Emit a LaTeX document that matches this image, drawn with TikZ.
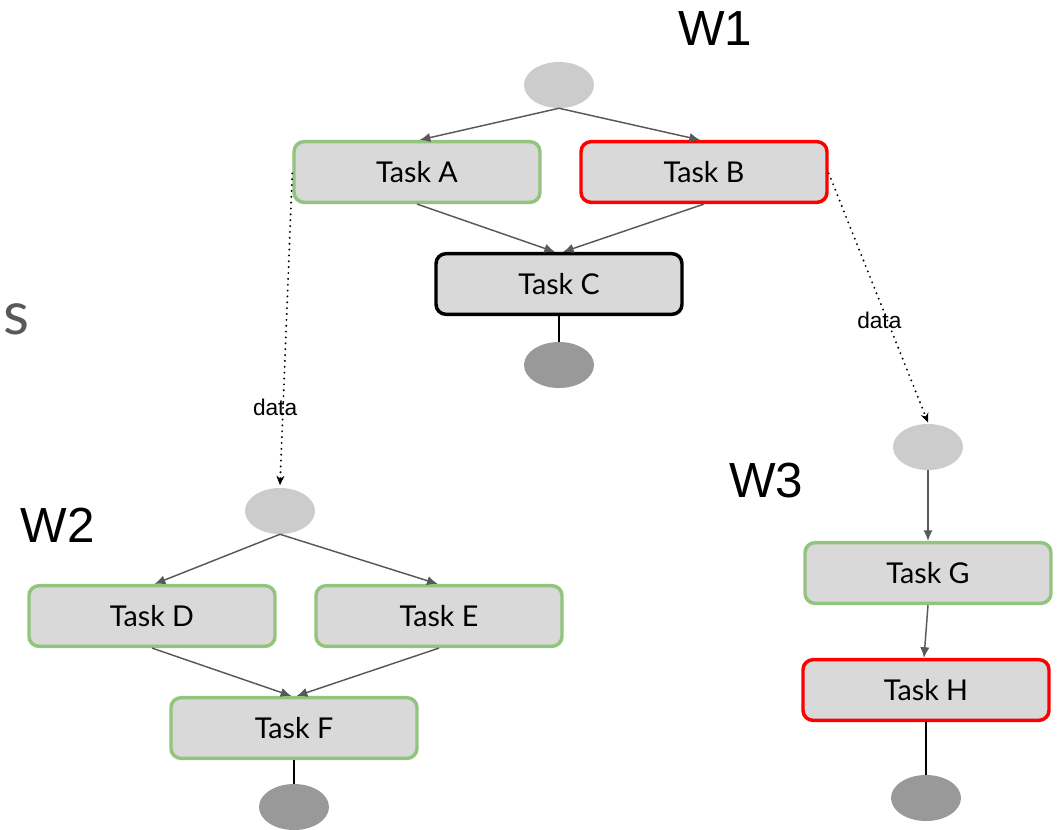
\documentclass[tikz,border=0pt]{standalone}
\usepackage{fontspec}
\setmainfont{Lato}
\newfontfamily\arialfont{Liberation Sans}
\usetikzlibrary{arrows.meta,shapes.geometric}
\definecolor{okgreen}{HTML}{93C47D}
\definecolor{failred}{HTML}{FF0000}
\definecolor{taskfill}{HTML}{D9D9D9}
\definecolor{startgray}{HTML}{CCCCCC}
\definecolor{endgray}{HTML}{999999}
\definecolor{edgegray}{HTML}{595959}
\tikzset{
  taskbox/.style={draw, line width=2.6pt, fill=taskfill, rounded corners=7.5pt,
    minimum width=184.5pt, minimum height=45.5pt, inner sep=0pt,
    font=\fontsize{21.5}{24}\selectfont, text=black},
  okbox/.style={taskbox, draw=okgreen},
  failbox/.style={taskbox, draw=failred},
  runbox/.style={taskbox, draw=black},
  startnode/.style={ellipse, fill=startgray, minimum width=52.5pt, minimum height=34.5pt, inner sep=0pt},
  endnode/.style={ellipse, fill=endgray, minimum width=52.5pt, minimum height=34.5pt, inner sep=0pt},
  flow/.style={draw=edgegray, line width=1.1pt, -{Latex[length=8pt,width=7pt]}},
  finish/.style={draw=black, line width=1.2pt},
  dataflow/.style={draw=black, line width=1.6pt, line cap=round, dash pattern=on 0pt off 4.4pt,
    -{Stealth[length=7pt,width=6pt,line cap=butt,line width=0.5pt]}},
  datalabel/.style={font=\arialfont\fontsize{17}{20}\selectfont, inner sep=0pt},
  wlabel/.style={font=\arialfont\fontsize{37}{40}\selectfont, inner sep=0pt},
}
\begin{document}
\begin{tikzpicture}[x=0.75pt, y=-0.75pt]
\useasboundingbox (0,0) rectangle (1061,829);

% workflow W1
\node[wlabel] (w1) at (715,29) {W1};
\node[startnode] (s1) at (559,85) {};
\node[okbox] (ta) at (417,172) {Task A};
\node[failbox] (tb) at (704,172) {Task B};
\node[runbox] (tc) at (559,284) {Task C};
\node[endnode] (e1) at (559,365) {};

% workflow W2
\node[wlabel] (w2) at (58,525) {W2};
\node[startnode] (s2) at (280,511) {};
\node[okbox] (td) at (152,616) {Task D};
\node[okbox] (te) at (439,616) {Task E};
\node[okbox] (tf) at (294,728) {Task F};
\node[endnode] (e2) at (294,807) {};

% workflow W3
\node[wlabel] (w3) at (766,481) {W3};
\node[startnode] (s3) at (928,447) {};
\node[okbox] (tg) at (928,573) {Task G};
\node[failbox] (th) at (926,690) {Task H};
\node[endnode] (e3) at (926,798) {};

% partly hidden side text
\node[anchor=west, inner sep=0pt, text=edgegray, font=\fontsize{45}{48}\selectfont] (side) at (3,319) {s};

% control flow
\draw[flow] (s1.south) -- ([xshift=2pt]ta.north);
\draw[flow] (s1.south) -- ([xshift=-3pt]tb.north);
\draw[flow] (ta.south) -- ([xshift=-3pt]tc.north);
\draw[flow] (tb.south) -- ([xshift=3pt]tc.north);
\draw[finish] (tc.south) -- (e1.north);

\draw[flow] (s2.south) -- ([xshift=2pt]td.north);
\draw[flow] (s2.south) -- ([xshift=-1pt]te.north);
\draw[flow] (td.south) -- ([xshift=-2pt]tf.north);
\draw[flow] (te.south) -- ([xshift=2pt]tf.north);
\draw[finish] (tf.south) -- (e2.north);

\draw[flow] (s3.south) -- (tg.north);
\draw[flow] (tg.south) -- ([xshift=-1.5pt]th.north);
\draw[finish] (th.south) -- (e3.north);

% data passed between workflows
\draw[dataflow] ([yshift=-1pt]ta.west) -- node[datalabel, pos=0.75, xshift=-6pt] {data} ([yshift=2pt]s2.north);
\draw[dataflow] ([yshift=-1pt]tb.east) -- node[datalabel, pos=0.59, xshift=-6pt] {data} ([yshift=1pt]s3.north);
\end{tikzpicture}
\end{document}
